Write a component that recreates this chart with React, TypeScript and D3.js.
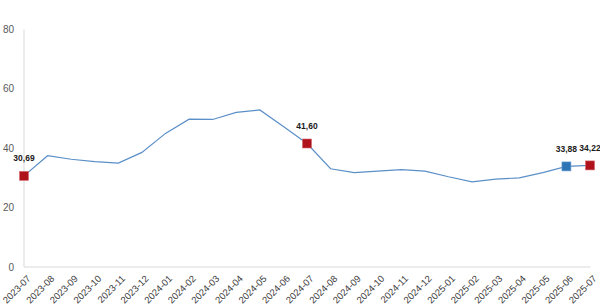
import React from "react";
import * as d3 from "d3";

const categories = [
  "2023-07", "2023-08", "2023-09", "2023-10", "2023-11", "2023-12",
  "2024-01", "2024-02", "2024-03", "2024-04", "2024-05", "2024-06",
  "2024-07", "2024-08", "2024-09", "2024-10", "2024-11", "2024-12",
  "2025-01", "2025-02", "2025-03", "2025-04", "2025-05", "2025-06", "2025-07",
];
const values = [
  30.69, 37.5, 36.3, 35.5, 35.0, 38.6,
  45.0, 49.8, 49.7, 52.1, 52.9, 47.3,
  41.6, 33.1, 31.8, 32.3, 32.8, 32.3,
  30.4, 28.7, 29.6, 30.0, 31.8, 33.88, 34.22,
];
const yTicks = [0, 20, 40, 60, 80];
const highlightRed = ["2023-07", "2024-07", "2025-07"];
const highlightBlue = ["2025-06"];

const W = 600;
const H = 308;

export default function App() {
  const x = d3.scalePoint<string>().domain(categories).range([24, 590]);
  const y = d3.scaleLinear().domain([0, 80]).range([267, 29.5]);
  const line = d3
    .line<number>()
    .x((_, i) => x(categories[i]) as number)
    .y((d) => y(d));
  const fmt = (v: number) => v.toFixed(2).replace(".", ",");
  const marked = categories
    .map((c, i) => ({ c, v: values[i] }))
    .filter((d) => highlightRed.includes(d.c) || highlightBlue.includes(d.c));

  return (
    <svg
      width={W}
      height={H}
      style={{ position: "absolute", left: 0, top: 0, background: "#fff" }}
      fontFamily="'Liberation Sans', Arial, sans-serif"
    >
      <line x1={24} x2={24} y1={y(80)} y2={y(0)} stroke="#d9d9d9" strokeWidth={1} />
      <line x1={24} x2={590.5} y1={y(0)} y2={y(0)} stroke="#d9d9d9" strokeWidth={1} />
      {yTicks.map((t) => (
        <text
          key={t}
          x={14}
          y={y(t)}
          dy="0.35em"
          textAnchor="end"
          fontSize={10}
          fill="#595959"
        >
          {t}
        </text>
      ))}
      {categories.map((c) => (
        <text
          key={c}
          transform={`translate(${(x(c) as number) + 5},${y(0) + 10}) rotate(-45)`}
          textAnchor="end"
          dy="0.35em"
          fontSize={9.5}
          fill="#404040"
        >
          {c}
        </text>
      ))}
      <path d={line(values) || ""} fill="none" stroke="#5b8fc7" strokeWidth={1.2} />
      {marked.map((d) => {
        const cx = x(d.c) as number;
        const cy = y(d.v);
        const blue = highlightBlue.includes(d.c);
        return (
          <g key={d.c}>
            <rect
              x={cx - 4.5}
              y={cy - 4.5}
              width={9}
              height={9}
              fill={blue ? "#2e75b6" : "#b0121b"}
              stroke={blue ? "#6fa1d0" : "#d46a70"}
              strokeWidth={0.6}
            />
            <text
              x={cx}
              y={cy - 17.5}
              dy="0.35em"
              textAnchor="middle"
              fontSize={8.5}
              fontWeight="bold"
              fill="#1a1a1a"
            >
              {fmt(d.v)}
            </text>
          </g>
        );
      })}
    </svg>
  );
}
